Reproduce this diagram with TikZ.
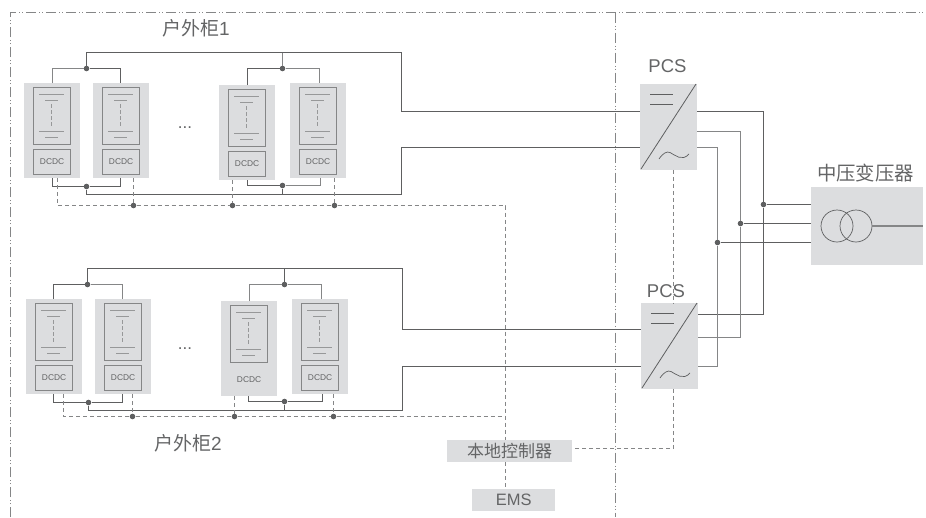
\documentclass[tikz,border=0pt]{standalone}
\usepackage{fontspec}
\setmainfont{Liberation Sans}
\newfontfamily\cjkf{Noto Sans CJK SC}
\definecolor{boxgray}{HTML}{DCDDDF}
\definecolor{linedark}{HTML}{5E5F60}
\definecolor{linelight}{HTML}{858687}
\definecolor{txt}{HTML}{646566}
\tikzset{
  x=1pt,y=-1pt,
  module/.style={fill=boxgray,draw=none,inner sep=0pt,minimum width=56pt,minimum height=95pt,anchor=north west},
  batt/.style={draw=linelight,line width=1.4pt,inner sep=0pt,minimum width=37pt,minimum height=57pt,anchor=north west},
  dcbox/.style={draw=linelight,line width=1.2pt,inner sep=0pt,minimum width=37pt,minimum height=25pt,anchor=north west,text=txt,font=\fontsize{8.4}{10}\selectfont},
  dcnobox/.style={dcbox,draw=none},
  cell/.style={draw=linelight!85,line width=1pt},
  celldash/.style={draw=linelight!85,line width=0.9pt,dash pattern=on 3.5pt off 2.5pt},
  bus/.style={draw=linedark,line width=1pt},
  buslight/.style={draw=linelight,line width=1.1pt},
  sig/.style={draw=linelight,line width=1pt,dash pattern=on 4pt off 3pt},
  frontier/.style={draw=linelight,line width=0.8pt,dash pattern=on 10pt off 3pt on 1pt off 2pt on 1pt off 3pt},
  dot/.style={circle,fill=linedark,draw=none,inner sep=0pt,minimum size=5.6pt},
  lab/.style={text=txt,inner sep=0pt,font=\fontsize{#1}{#1}\selectfont},
  lab/.default=18,
  conv/.style={fill=boxgray,draw=none,inner sep=0pt,minimum width=57pt,minimum height=85.5pt,anchor=north west},
}
\newcommand{\batmodule}[4]{% name, x, y, dcstyle
  \node[module] (#1) at (#2,#3) {};
  \node[batt] (#1b) at (#2+9,#3+4) {};
  \node[#4] (#1d) at (#2+9,#3+66) {DCDC};
  \draw[cell] (#2+15,#3+11.5) -- (#2+40,#3+11.5);
  \draw[cell] (#2+21,#3+17.5) -- (#2+34,#3+17.5);
  \draw[celldash] (#2+27.5,#3+21) -- (#2+27.5,#3+45);
  \draw[cell] (#2+15,#3+48.5) -- (#2+40,#3+48.5);
  \draw[cell] (#2+21,#3+54.5) -- (#2+34,#3+54.5);
}
\newcommand{\pcsbox}[3]{% name x y
  \node[conv] (#1) at (#2,#3) {};
  \draw[draw=linedark,line width=0.8pt] (#2+1,#3+85) -- (#2+56,#3);
  \draw[draw=linedark,line width=0.8pt] (#2+10,#3+10.5) -- (#2+33,#3+10.5);
  \draw[draw=linedark,line width=0.8pt] (#2+10,#3+20.5) -- (#2+33,#3+20.5);
  \draw[draw=linedark,line width=0.7pt] (#2+19,#3+75) .. controls (#2+23,#3+69) and (#2+27,#3+67) .. (#2+30,#3+68.5) .. controls (#2+35,#3+71) and (#2+42,#3+78) .. (#2+49,#3+70);
}
\begin{document}
\begin{tikzpicture}
\useasboundingbox (0,0) rectangle (926,517);
% frontier lines
\coordinate (fa) at (10.5,12.5);
\coordinate (fb) at (926,12.5);
\coordinate (fc) at (10.5,517);
\coordinate (fd) at (615.5,12.5);
\coordinate (fe) at (615.5,517);
\draw[frontier] (fc) -- (fa) -- (fb);
\draw[frontier] (fd) -- (fe);
% modules, group 1
\batmodule{a}{24}{83}{dcbox}
\batmodule{b}{93}{83}{dcbox}
\batmodule{c}{219}{85}{dcbox}
\batmodule{d}{290}{83}{dcbox}
% modules, group 2
\batmodule{e}{26}{299}{dcbox}
\batmodule{f}{95}{299}{dcbox}
\batmodule{g}{221}{301}{dcnobox}
\batmodule{h}{292}{299}{dcbox}
% converters
\pcsbox{p}{640}{84}
\pcsbox{q}{641}{303}
% transformer
\node[fill=boxgray,inner sep=0pt,minimum width=112pt,minimum height=78pt,anchor=north west] (tr) at (811,187) {};
\node[circle,draw=linedark,line width=0.7pt,inner sep=0pt,minimum size=32pt] (c1) at (837,226) {};
\node[circle,draw=linedark,line width=0.7pt,inner sep=0pt,minimum size=32pt] (c2) at (856,226) {};
% control boxes
\node[fill=boxgray,lab=17,inner sep=0pt,minimum width=125pt,minimum height=22pt,anchor=north west] (lc) at (447,440) {\cjkf 本地控制器};
\node[fill=boxgray,lab=16.5,inner sep=0pt,minimum width=83pt,minimum height=22pt,anchor=north west] (ems) at (472,489) {EMS};
% labels
\node[lab=19] (t1) at (196,28) {\cjkf 户外柜\fontspec{Liberation Sans}1};
\node[lab=19] (t2) at (188,443) {\cjkf 户外柜\fontspec{Liberation Sans}2};
\node[lab=18.5] (t3) at (667.5,66) {PCS};
\node[lab=18.5] (t4) at (666,291) {PCS};
\node[lab=19.4] (t5) at (865.5,173) {\cjkf 中压变压器};
\node[lab=17] (t6) at (185,128) {...};
\node[lab=17] (t7) at (185,348.5) {...};
% junctions, group 1
\node[dot] (j1) at (86.5,68.5) {};
\node[dot] (j2) at (282.5,68.5) {};
\node[dot] (j3) at (86.5,186.5) {};
\node[dot] (j4) at (282.5,185.5) {};
\node[dot] (s1) at (133.5,205.5) {};
\node[dot] (s2) at (232.5,205.5) {};
\node[dot] (s3) at (334.5,205.5) {};
% junctions, group 2
\node[dot] (j5) at (87.5,284.5) {};
\node[dot] (j6) at (284.5,284.5) {};
\node[dot] (j7) at (88.5,402.5) {};
\node[dot] (j8) at (284.5,401.5) {};
\node[dot] (s4) at (132.5,416.5) {};
\node[dot] (s5) at (234.5,416.5) {};
\node[dot] (s6) at (333.5,416.5) {};
% junctions, AC
\node[dot] (k1) at (763.5,204.5) {};
\node[dot] (k2) at (740.5,223.5) {};
\node[dot] (k3) at (717.5,242.5) {};
% bus group 1
\coordinate (u1) at (86.5,52.5); \coordinate (u2) at (401.5,52.5); \coordinate (u3) at (401.5,111.5);
\coordinate (v1) at (86.5,194.5); \coordinate (v2) at (401.5,194.5); \coordinate (v3) at (401.5,147.5);
\coordinate (u4) at (282.5,52.5); \coordinate (v4) at (282.5,194.5);
\draw[bus] (j1) -- (u1) -- (u2) -- (u3) -- (p.west |- u3);
\draw[buslight] (u4) -- (j2);
\draw[bus] (j3) -- (v1) -- (v2) -- (v3) -- (p.west |- v3);
\draw[bus] (j4) -- (v4);
\coordinate (a1) at (52.5,68.5); \coordinate (b1) at (120.5,68.5); \coordinate (c1t) at (247.5,68.5); \coordinate (d1) at (319.5,68.5);
\coordinate (a2) at (52.5,186.5); \coordinate (b2) at (120.5,186.5); \coordinate (c2b) at (247.5,185.5); \coordinate (d2) at (320.5,185.5);
\draw[buslight] (a.north -| a1) -- (a1) -- (j1);
\draw[bus] (j1) -- (b1) -- (b.north -| b1);
\draw[bus] (c.north -| c1t) -- (c1t) -- (j2);
\draw[buslight] (j2) -- (d1) -- (d.north -| d1);
\draw[bus] (a.south -| a2) -- (a2) -- (j3);
\draw[bus] (j3) -- (b2) -- (b.south -| b2);
\draw[bus] (c.south -| c2b) -- (c2b) -- (j4);
\draw[buslight] (j4) -- (d2) -- (d.south -| d2);
% signal group 1
\coordinate (w1) at (57.5,205.5); \coordinate (w2) at (505.5,205.5);
\draw[sig] (a.south -| w1) -- (w1) -- (s1) -- (s2) -- (s3) -- (w2) -- (lc.north -| w2);
\draw[sig] (b.south -| s1) -- (s1);
\draw[sig] (c.south -| s2) -- (s2);
\draw[sig] (d.south -| s3) -- (s3);
\draw[sig] (lc.south -| w2) -- (ems.north -| w2);
% bus group 2
\coordinate (u5) at (87.5,268.5); \coordinate (u6) at (402.5,268.5); \coordinate (u7) at (402.5,329.5);
\coordinate (v5) at (87.5,410.5); \coordinate (v6) at (402.5,410.5); \coordinate (v7) at (402.5,366.5);
\coordinate (u8) at (284.5,268.5); \coordinate (v8) at (284.5,410.5);
\draw[bus] (j5) -- (u5) -- (u6) -- (u7) -- (q.west |- u7);
\draw[bus] (u8) -- (j6);
\draw[bus] (j7) -- (j7 |- v6) -- (v6) -- (v7) -- (q.west |- v7);
\draw[bus] (j8) -- (v8);
\coordinate (e1) at (53.5,284.5); \coordinate (f1) at (122.5,284.5); \coordinate (g1) at (249.5,284.5); \coordinate (h1) at (321.5,284.5);
\coordinate (e2) at (53.5,402.5); \coordinate (f2) at (122.5,402.5); \coordinate (g2) at (248.5,401.5); \coordinate (h2) at (322.5,401.5);
\draw[bus] (e.north -| e1) -- (e1) -- (j5);
\draw[buslight] (j5) -- (f1) -- (f.north -| f1);
\draw[buslight] (g.north -| g1) -- (g1) -- (j6) -- (h1) -- (h.north -| h1);
\draw[bus] (e.south -| e2) -- (e2) -- (j7) -- (f2) -- (f.south -| f2);
\draw[bus] (g.south -| g2) -- (g2) -- (j8) -- (h2) -- (h.south -| h2);
% signal group 2
\coordinate (w3) at (63.5,416.5); \coordinate (w4) at (503.5,416.5);
\draw[sig] (e.south -| w3) -- (w3) -- (s4) -- (s5) -- (s6) -- (w4);
\draw[sig] (f.south -| s4) -- (s4);
\draw[sig] (g.south -| s5) -- (s5);
\draw[sig] (h.south -| s6) -- (s6);
% PCS signal
\coordinate (x1) at (673.5,170); \coordinate (x2) at (673.5,448.5);
\draw[sig] (p.south -| x1) -- (q.north -| x1);
\draw[sig] (q.south -| x2) -- (x2) -- (lc.east |- x2);
% AC buses
\coordinate (r1) at (763.5,111.5); \coordinate (r2) at (740.5,131.5); \coordinate (r3) at (717.5,147.5);
\coordinate (r4) at (763.5,314.5); \coordinate (r5) at (740.5,337.5); \coordinate (r6) at (717.5,366.5);
\draw[bus] (p.east |- r1) -- (r1) -- (k1) -- (r4) -- (q.east |- r4);
\draw[buslight] (p.east |- r2) -- (r2) -- (k2) -- (r5) -- (q.east |- r5);
\draw[buslight] (p.east |- r3) -- (r3) -- (k3) -- (r6) -- (q.east |- r6);
\draw[bus] (k1) -- (tr.west |- k1);
\draw[bus] (k2) -- (tr.west |- k2);
\draw[bus] (k3) -- (tr.west |- k3);
\draw[buslight] (c2.east) -- (tr.east |- c2.east);
\end{tikzpicture}
\end{document}
